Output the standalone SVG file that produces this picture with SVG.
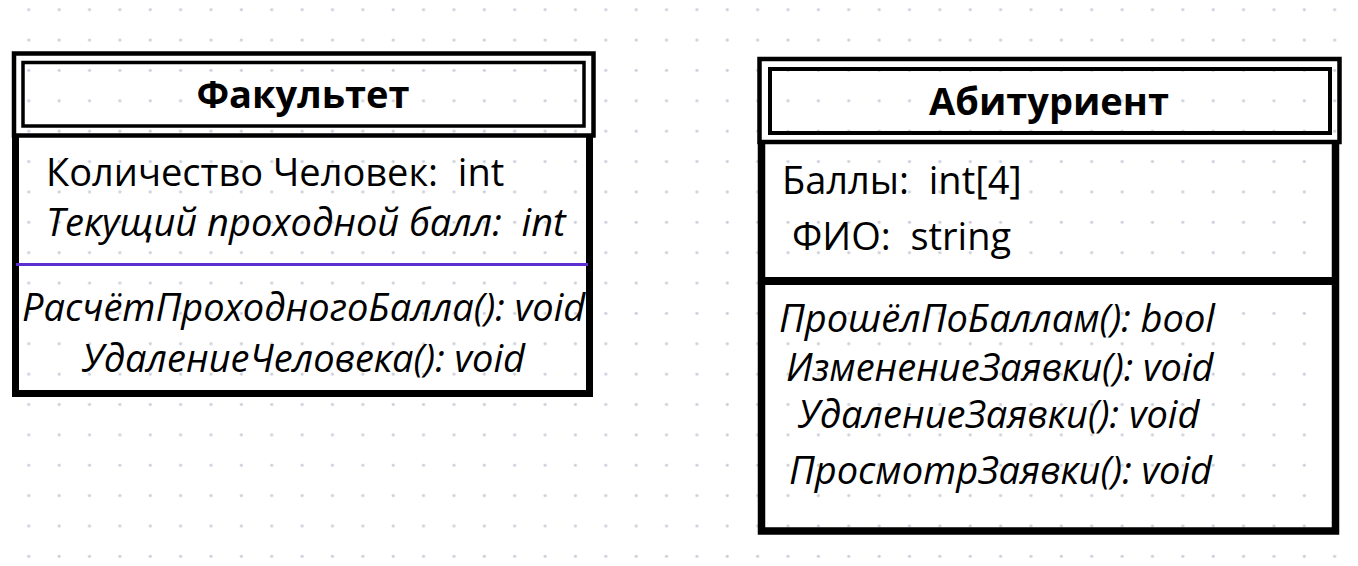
<svg xmlns="http://www.w3.org/2000/svg" width="1358" height="566" viewBox="0 0 1358 566">
<defs>
<pattern id="dots" patternUnits="userSpaceOnUse" x="13.8" y="25" width="30.37" height="30.37">
<circle cx="15" cy="15" r="1.6" fill="#cdd1dc"/>
</pattern>
<style>
.b{fill:none;stroke:#000}
.t{font-family:"Open Sans","Noto Sans",sans-serif;font-size:38px;fill:#000;white-space:pre}
.h{font-weight:bold;text-anchor:middle}
.i{font-style:italic}
</style>
</defs>
<rect width="1358" height="566" fill="#fff"/>
<rect width="1358" height="566" fill="url(#dots)"/>
<g id="connectors"></g>
<g id="fakultet">
<path class="b" stroke-width="7" d="M15.5 136V393.5H589.5V136"/>
<rect class="b" x="14" y="53.5" width="579.5" height="82" stroke-width="4.5"/>
<rect class="b" x="23" y="62.5" width="561" height="63.5" stroke-width="3.5"/>
<line x1="16" y1="264.5" x2="588" y2="264.5" stroke="#5e2fd0" stroke-width="3"/>
<text class="t h" x="303" y="108">Факультет</text>
<text class="t" x="46" y="186" xml:space="preserve">Количество Человек:  int</text>
<text class="t i" x="46" y="236" xml:space="preserve">Текущий проходной балл:  int</text>
<text class="t i" x="22" y="321">РасчётПроходногоБалла(): void</text>
<text class="t i" x="82" y="372">УдалениеЧеловека(): void</text>
</g>
<g id="abiturient">
<path class="b" stroke-width="7.5" d="M761.5 142V531H1335.5V142"/>
<rect class="b" x="759.5" y="59" width="580" height="83" stroke-width="4.5"/>
<rect class="b" x="770" y="69" width="560" height="64" stroke-width="4"/>
<line x1="761" y1="281" x2="1336" y2="281" stroke="#000" stroke-width="8"/>
<text class="t h" x="1049" y="115">Абитуриент</text>
<text class="t" x="782" y="194" xml:space="preserve">Баллы:  int[4]</text>
<text class="t" x="792" y="250" xml:space="preserve">ФИО:  string</text>
<text class="t i" x="779" y="332">ПрошёлПоБаллам(): bool</text>
<text class="t i" x="786" y="381">ИзменениеЗаявки(): void</text>
<text class="t i" x="798" y="428">УдалениеЗаявки(): void</text>
<text class="t i" x="789" y="484">ПросмотрЗаявки(): void</text>
</g>
</svg>
